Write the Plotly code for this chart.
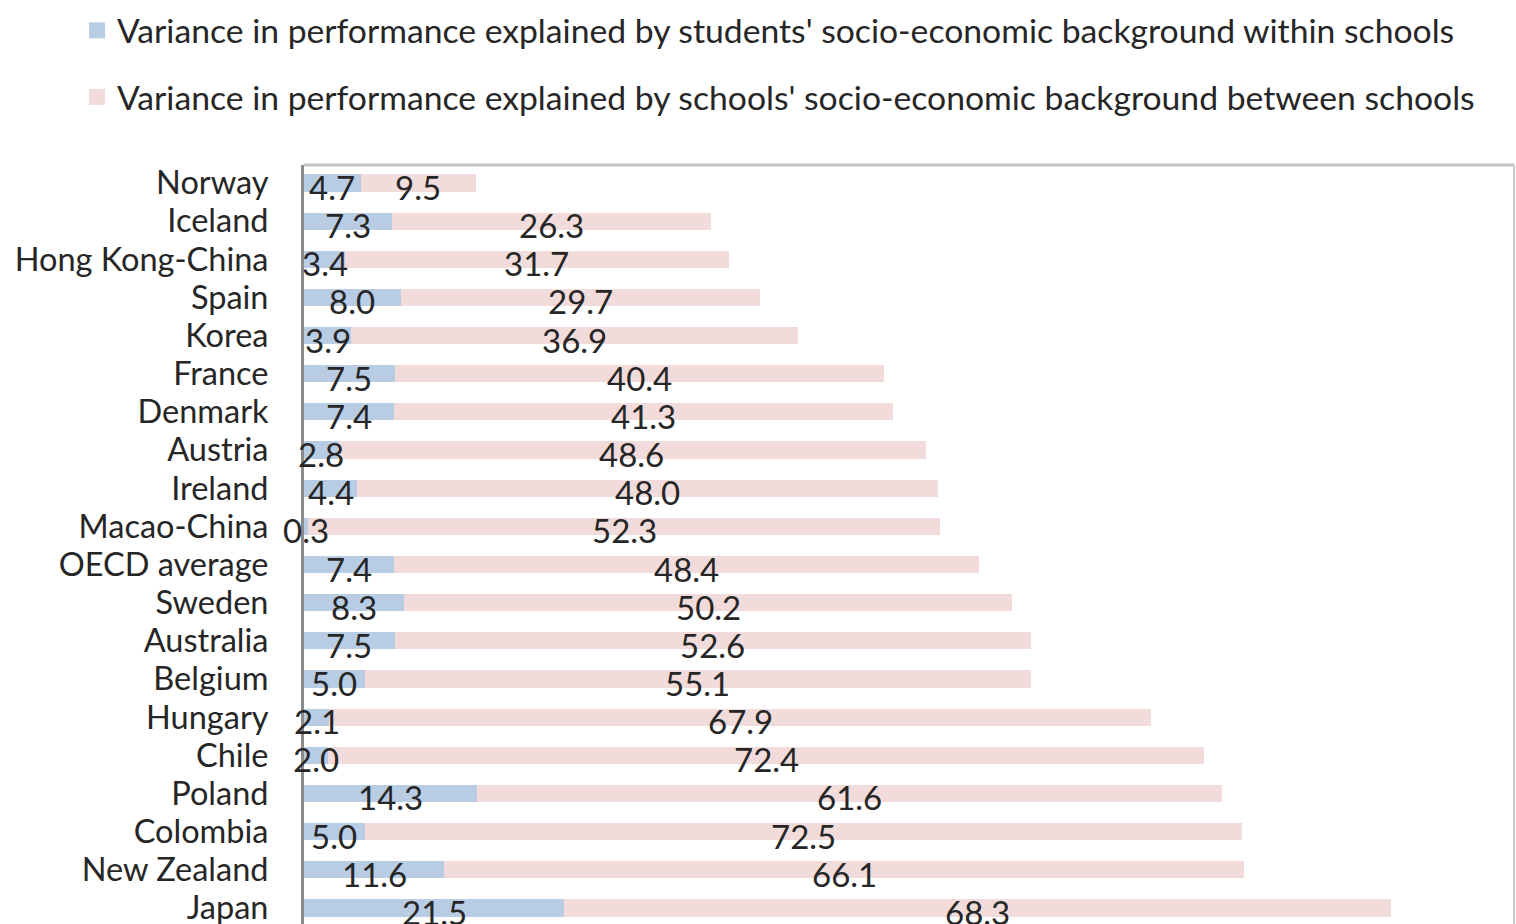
import plotly.graph_objects as go

countries = ["Norway", "Iceland", "Hong Kong-China", "Spain", "Korea", "France",
             "Denmark", "Austria", "Ireland", "Macao-China", "OECD average", "Sweden",
             "Australia", "Belgium", "Hungary", "Chile", "Poland", "Colombia",
             "New Zealand", "Japan"]
within_schools = [4.7, 7.3, 3.4, 8.0, 3.9, 7.5, 7.4, 2.8, 4.4, 0.3, 7.4, 8.3,
                  7.5, 5.0, 2.1, 2.0, 14.3, 5.0, 11.6, 21.5]
between_schools = [9.5, 26.3, 31.7, 29.7, 36.9, 40.4, 41.3, 48.6, 48.0, 52.3, 48.4, 50.2,
                   52.6, 55.1, 67.9, 72.4, 61.6, 72.5, 66.1, 68.3]

name_within = "Variance in performance explained by students' socio-economic background within schools"
name_between = "Variance in performance explained by schools' socio-economic background between schools"

BLUE = "#b8cce4"
PINK = "#f2dcdb"
TEXT = "#262626"
FONT = "Lato"
FS_TICK = 32.5
FS_LABEL = 33
FS_LEGEND = 33.7

fig = go.Figure()
fig.add_trace(go.Bar(y=countries, x=within_schools, orientation="h", name=name_within,
                     marker=dict(color=BLUE, line=dict(width=0)), width=0.45,
                     showlegend=False, hoverinfo="x+y"))
fig.add_trace(go.Bar(y=countries, x=between_schools, orientation="h", name=name_between,
                     marker=dict(color=PINK, line=dict(width=0)), width=0.45,
                     showlegend=False, hoverinfo="x+y"))

# legend entries with larger square swatches
for nm, col, grp in [(name_within, BLUE, "a"), (name_between, PINK, "b")]:
    fig.add_trace(go.Scatter(x=[None], y=[None], mode="markers", name=nm,
                             marker=dict(symbol="square", size=18, color=col),
                             legendgroup=grp, showlegend=True))

# value labels centred on each segment, drawn above both bar layers
mid_within = [w / 2 for w in within_schools]
mid_between = [w + b / 2 for w, b in zip(within_schools, between_schools)]
annotations = []
for c, mx, v in zip(countries, mid_within, within_schools):
    annotations.append(dict(x=mx, y=c, xref="x", yref="y", text=f"{v:.1f}",
                            showarrow=False, yshift=-4,
                            font=dict(family=FONT, size=FS_LABEL, color=TEXT)))
for c, mx, v in zip(countries, mid_between, between_schools):
    annotations.append(dict(x=mx, y=c, xref="x", yref="y", text=f"{v:.1f}",
                            showarrow=False, yshift=-4,
                            font=dict(family=FONT, size=FS_LABEL, color=TEXT)))

fig.update_layout(
    barmode="stack",
    width=1516, height=924,
    margin=dict(l=304, r=2, t=165, b=0, autoexpand=False),
    paper_bgcolor="white", plot_bgcolor="white",
    font=dict(family=FONT, size=FS_TICK, color=TEXT),
    showlegend=True,
    legend=dict(xref="container", yref="container", x=77 / 1516, y=0.998,
                xanchor="left", yanchor="top", orientation="v",
                traceorder="grouped", tracegroupgap=20,
                font=dict(family=FONT, size=FS_LEGEND, color=TEXT),
                bgcolor="rgba(0,0,0,0)"),
    xaxis=dict(range=[0, 100], visible=False, showgrid=False, zeroline=False,
               fixedrange=True, automargin=False),
    yaxis=dict(type="category", categoryorder="array", categoryarray=countries,
               tickmode="array", tickvals=countries, ticktext=countries,
               range=[19.42, -0.47], showgrid=False, zeroline=False, automargin=False,
               showline=True, linecolor="#8c8c8c", linewidth=3,
               ticks="", ticklabelstandoff=26,
               tickfont=dict(family=FONT, size=FS_TICK, color=TEXT)),
    annotations=annotations,
    shapes=[
        dict(type="line", xref="paper", yref="paper", x0=0, x1=1, y0=1, y1=1,
             line=dict(color="#c0c0c0", width=3)),
        dict(type="line", xref="paper", yref="paper", x0=1, x1=1, y0=0, y1=1,
             line=dict(color="#c8c8c8", width=2)),
    ],
)

fig.write_html("out.html")
